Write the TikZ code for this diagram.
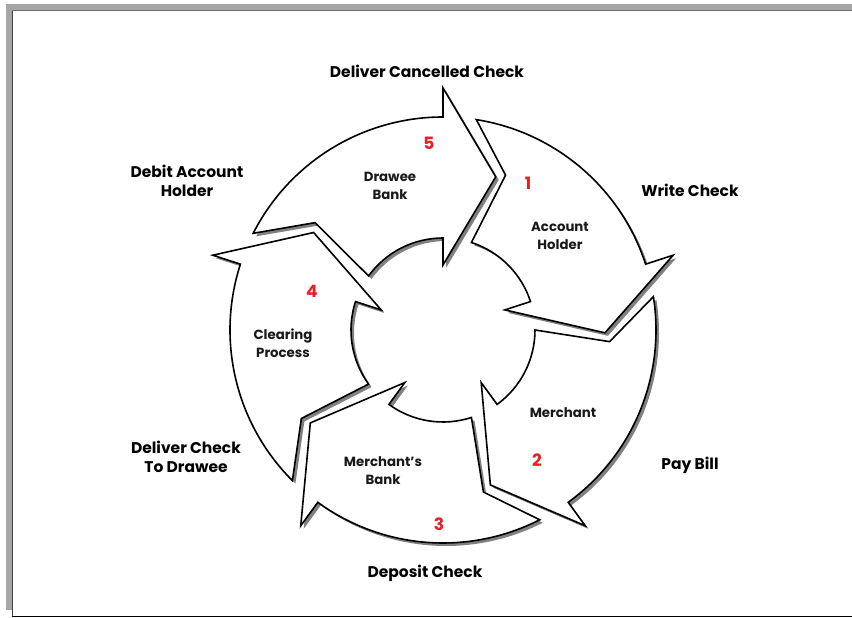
\documentclass[tikz,border=0pt]{standalone}
\usepackage{fontspec}
\setmainfont{Poppins}
\definecolor{shadowgray}{RGB}{128,128,128}
\definecolor{framegray}{RGB}{166,166,166}
\definecolor{framedark}{RGB}{110,110,110}
\definecolor{numred}{RGB}{235,30,35}
\newcommand{\arrowpath}[1]{({#1+63}:213) arc[start angle={#1+63}, end angle={#1}, radius=213] -- ({#1}:242) -- ({#1-19}:162) -- ({#1}:65) -- ({#1}:92) arc[start angle={#1}, end angle={#1+54}, radius=92] -- ({#1+50}:167) -- cycle}
\tikzset{
  outerlabel/.style={font=\fontsize{15.5}{19}\selectfont\bfseries, align=center, text=black, inner sep=0pt},
  innerlabel/.style={font=\fontsize{13.3}{18}\selectfont\bfseries, align=center, text=black!90, inner sep=0pt},
  numlabel/.style={font=\fontsize{17}{19}\selectfont\bfseries, text=numred, inner sep=0pt},
  arrowshape/.style={fill=white, draw=black, line width=1.6pt, line join=miter},
  arrowshadow/.style={fill=shadowgray},
}
\begin{document}
\begin{tikzpicture}[x=1pt, y=1pt]
\useasboundingbox (0,0) rectangle (852,618);
\fill[white] (0,0) rectangle (852,618);
% frame
\fill[framegray] (6,607) rectangle (852,614);
\fill[framegray] (6,8) rectangle (12,614);
\draw[framedark, line width=1pt] (12,607) -- (852,607);
\draw[black!75, line width=1.2pt] (12.6,1.5) -- (12.6,607);
\draw[black, line width=1.5pt] (12,1.5) -- (852,1.5);
% cycle
\begin{scope}[shift={(443,288)}]
  \foreach \h in {90,18,-54,-126,-198} {
    \fill[arrowshadow, shift={(3,-3)}] \arrowpath{\h};
  }
  \foreach \h in {90,18,-54,-126,-198} {
    \filldraw[arrowshape] \arrowpath{\h};
  }
\end{scope}
% outer labels
\node[outerlabel] (dcc) at (427,547) {Deliver Cancelled Check};
\node[outerlabel] (dah) at (187,437.5) {Debit Account\\Holder};
\node[outerlabel] (wc) at (690,428) {Write Check};
\node[outerlabel] (pb) at (690,153) {Pay Bill};
\node[outerlabel] (dc) at (425,45) {Deposit Check};
\node[outerlabel] (dctd) at (186,161.5) {Deliver Check\\To Drawee};
% inner labels
\node[innerlabel] (db) at (390,432) {Drawee\\Bank};
\node[innerlabel] (ah) at (560,382.5) {Account\\Holder};
\node[innerlabel] (me) at (563,205) {Merchant};
\node[innerlabel] (mb) at (383,147) {Merchant’s\\Bank};
\node[innerlabel] (cp) at (283,274.5) {Clearing\\Process};
% numbers
\node[numlabel] (n5) at (429,475) {5};
\node[numlabel] (n1) at (528,435) {1};
\node[numlabel] (n2) at (537,158) {2};
\node[numlabel] (n3) at (439,94) {3};
\node[numlabel] (n4) at (312,327) {4};
\end{tikzpicture}
\end{document}
